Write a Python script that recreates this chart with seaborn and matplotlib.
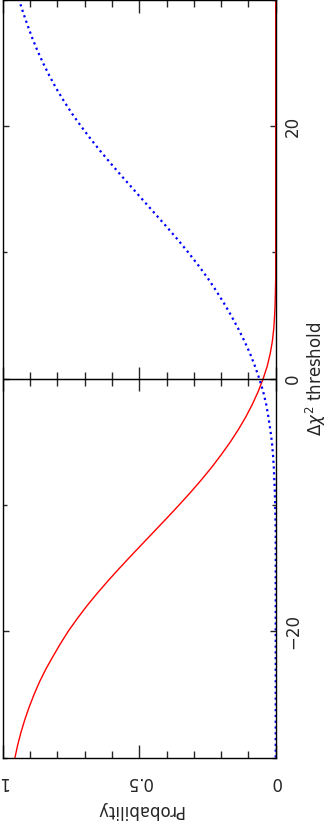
import matplotlib
matplotlib.use('Agg')
import matplotlib.pyplot as plt
import pandas as pd
import seaborn as sns
from matplotlib.ticker import MultipleLocator, FixedLocator

# Delta chi^2 threshold grid and probabilities
delta_chi2 = list(range(-30, 31))
prob_red = [0.955, 0.945, 0.933, 0.919, 0.903, 0.885, 0.865, 0.842, 0.816, 0.789,
            0.760, 0.727, 0.692, 0.654, 0.614, 0.572, 0.529, 0.485, 0.441, 0.397,
            0.354, 0.312, 0.272, 0.234, 0.199, 0.166, 0.136, 0.109, 0.085, 0.064,
            0.046, 0.031, 0.020, 0.012, 0.007, 0.004, 0.002, 0.001, 0.0, 0.0,
            0.0, 0.0, 0.0, 0.0, 0.0, 0.0, 0.0, 0.0, 0.0, 0.0,
            0.0, 0.0, 0.0, 0.0, 0.0, 0.0, 0.0, 0.0, 0.0, 0.0, 0.0]
prob_blue = [0.0, 0.0, 0.0, 0.0, 0.0, 0.0, 0.0, 0.0, 0.0, 0.0,
             0.0, 0.0, 0.0, 0.0, 0.0, 0.0, 0.0, 0.0, 0.0, 0.001,
             0.002, 0.003, 0.005, 0.007, 0.010, 0.014, 0.020, 0.027, 0.035, 0.046,
             0.060, 0.076, 0.094, 0.115, 0.138, 0.163, 0.190, 0.219, 0.250, 0.284,
             0.320, 0.358, 0.398, 0.439, 0.480, 0.521, 0.562, 0.602, 0.641, 0.678,
             0.713, 0.746, 0.776, 0.804, 0.829, 0.852, 0.873, 0.892, 0.909, 0.925, 0.940]

prob_ticks = [0, 0.5, 1]
prob_ticklabels = ['0', '0.5', '1']
chi_ticks = [-20, 0, 20]
chi_ticklabels = ['\u221220', '0', '20']

df = pd.DataFrame({'delta': delta_chi2, 'red': prob_red, 'blue': prob_blue})

sns.set_style('ticks')
plt.rcParams['font.family'] = ['DejaVu Sans']
plt.rcParams['font.size'] = 12

fig = plt.figure(figsize=(3.27, 8.30), dpi=100)
ax = fig.add_axes([2.7 / 327, 1 - 757.5 / 830, 273 / 327, 757.5 / 830])

sns.lineplot(data=df, x='red', y='delta', orient='y', color='#ff0000', lw=1.0, ax=ax)
sns.lineplot(data=df, x='blue', y='delta', orient='y', color='#0000ff', lw=1.6,
             linestyle=(0, (1, 1.6)), dash_capstyle='butt', ax=ax)

ax.set_xlim(1, 0)
ax.set_ylim(-30, 30)
for s in ax.spines.values():
    s.set_color('black')
    s.set_linewidth(1.0)

# probability axis (bottom/top), labels upside down
ax.set_xticks(prob_ticks)
ax.set_xticklabels(prob_ticklabels, rotation=180)
ax.xaxis.set_minor_locator(MultipleLocator(0.1))
ax.tick_params(axis='x', which='major', direction='in', length=9.4, width=1, top=True, bottom=True, pad=11)
ax.tick_params(axis='x', which='minor', direction='in', length=5, width=1, top=True, bottom=True)
ax.set_xlabel('Probability', rotation=180, labelpad=7)

# threshold axis on the right, labels rotated
ax.yaxis.tick_right()
ax.yaxis.set_label_position('right')
ax.set_yticks(chi_ticks)
ax.set_yticklabels(chi_ticklabels, rotation=90, va='center')
ax.yaxis.set_minor_locator(FixedLocator([-30, -10, 10, 30]))
ax.tick_params(axis='y', which='major', direction='in', length=4.5, width=1, left=True, right=True,
               labelleft=False, labelright=True, pad=6)
ax.tick_params(axis='y', which='minor', direction='in', length=3, width=1, left=True, right=True)
ax.set_ylabel(r'$\Delta\chi^2$ threshold', rotation=90, labelpad=1)

# zero line with crossing ticks
y0, y1 = ax.get_ylim()
ax.axhline(0, color='black', lw=1.0)
sec = ax.secondary_xaxis((0 - y0) / (y1 - y0))
sec.set_xticks(prob_ticks)
sec.xaxis.set_minor_locator(MultipleLocator(0.1))
sec.tick_params(which='major', direction='inout', length=17, width=1, labelbottom=False, labeltop=False)
sec.tick_params(which='minor', direction='inout', length=9.4, width=1)
sec.spines[:].set_color('black')

fig.savefig('out.png', dpi=100)
